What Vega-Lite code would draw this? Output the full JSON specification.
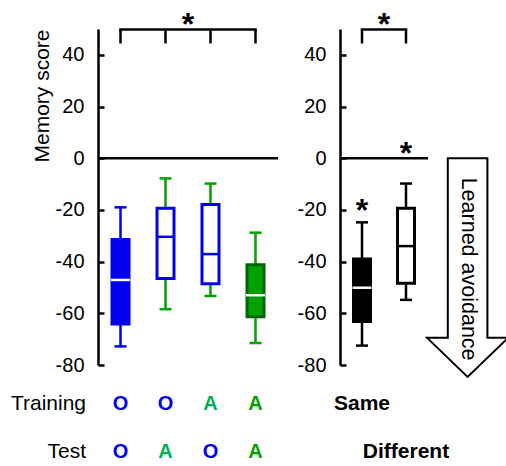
{
  "$schema": "https://vega.github.io/schema/vega-lite/v6.json",
  "autosize": {"type": "none"},
  "padding": {"left": 98, "top": 29, "right": 408, "bottom": 437},
  "bounds": "flush",
  "spacing": 62,
  "config": {
    "font": "Liberation Sans",
    "view": {"stroke": null},
    "axisX": {"disable": true},
    "axisY": {
      "domainColor": "black", "domainWidth": 2.5, "tickColor": "black", "tickWidth": 2.5,
      "tickSize": -6, "labelPadding": 20, "labelFontSize": 20, "labelColor": "black",
      "grid": false, "values": [-80, -60, -40, -20, 0, 20, 40], "labelExpr": "'' + datum.value",
      "labelFlush": false, "labelOverlap": false,
      "titleFontSize": 21, "titleFontWeight": "normal", "titleColor": "black",
      "titlePadding": 3, "titleAnchor": "end"
    }
  },
  "datasets": {
    "boxesLeft": [
      {"cond": "OO", "lo": -72.8, "q1": -64.1, "med": -47.1, "q3": -31.4, "hi": -19.0},
      {"cond": "OA", "lo": -58.4, "q1": -46.5, "med": -30.4, "q3": -19.4, "hi": -7.8},
      {"cond": "AO", "lo": -53.3, "q1": -48.6, "med": -37.1, "q3": -17.9, "hi": -9.8},
      {"cond": "AA", "lo": -71.5, "q1": -61.3, "med": -53.0, "q3": -41.2, "hi": -28.8}
    ],
    "boxesRight": [
      {"cond": "Same", "lo": -72.5, "q1": -63.2, "med": -50.1, "q3": -39.0, "hi": -24.8},
      {"cond": "Different", "lo": -54.8, "q1": -48.4, "med": -34.0, "q3": -19.4, "hi": -9.8}
    ],
    "letters": [
      {"row": "Training", "cond": "OO", "letter": "O"},
      {"row": "Training", "cond": "OA", "letter": "O"},
      {"row": "Training", "cond": "AO", "letter": "A"},
      {"row": "Training", "cond": "AA", "letter": "A"},
      {"row": "Test", "cond": "OO", "letter": "O"},
      {"row": "Test", "cond": "OA", "letter": "A"},
      {"row": "Test", "cond": "AO", "letter": "O"},
      {"row": "Test", "cond": "AA", "letter": "A"}
    ],
    "rowNames": [{"row": "Training"}, {"row": "Test"}],
    "rightLabels": [
      {"row": "Training", "cond": "Same", "label": "Same"},
      {"row": "Test", "cond": "Different", "label": "Different"}
    ],
    "arrow": [
      {"i": 1, "ax": 2.95, "ay": 0},
      {"i": 2, "ax": 3.85, "ay": 0},
      {"i": 3, "ax": 3.85, "ay": -69.5},
      {"i": 4, "ax": 4.32, "ay": -69.5},
      {"i": 5, "ax": 3.4, "ay": -84.6},
      {"i": 6, "ax": 2.48, "ay": -69.5},
      {"i": 7, "ax": 2.95, "ay": -69.5},
      {"i": 8, "ax": 2.95, "ay": 0}
    ],
    "one": [{"k": 1}]
  },
  "hconcat": [
    {
      "width": 180,
      "height": 336,
      "resolve": {"scale": {"color": "independent", "stroke": "independent", "fill": "independent"}},
      "layer": [
        {
          "data": {"name": "one"},
          "mark": {"type": "rule", "color": "black", "strokeWidth": 2.5},
          "encoding": {
            "y": {"datum": 0, "type": "quantitative", "scale": {"domain": [-80, 50], "nice": false, "zero": false}, "title": "Memory score"}
          }
        },
        {
          "data": {"name": "one"},
          "mark": {"type": "rule", "color": "black", "strokeWidth": 2.5, "strokeCap": "square"},
          "encoding": {
            "x": {"datum": "OO", "type": "nominal", "scale": {"type": "band", "domain": ["OO", "OA", "AO", "AA"], "paddingInner": 0, "paddingOuter": 0}},
            "x2": {"datum": "AA"},
            "y": {"datum": 49.8, "type": "quantitative", "scale": {"domain": [-80, 50], "nice": false, "zero": false}, "title": "Memory score"}
          }
        },
        {
          "data": {"name": "boxesLeft"},
          "mark": {"type": "rule", "color": "black", "strokeWidth": 2.5},
          "encoding": {
            "x": {"field": "cond", "type": "nominal", "scale": {"type": "band", "domain": ["OO", "OA", "AO", "AA"], "paddingInner": 0, "paddingOuter": 0}},
            "y": {"datum": 44.4, "type": "quantitative", "scale": {"domain": [-80, 50], "nice": false, "zero": false}, "title": "Memory score"},
            "y2": {"datum": 49.8}
          }
        },
        {
          "data": {"name": "one"},
          "mark": {"type": "text", "fontSize": 32, "fontWeight": "bold", "baseline": "alphabetic", "align": "center", "color": "black"},
          "encoding": {
            "x": {"datum": "OA", "type": "nominal", "bandPosition": 1, "scale": {"type": "band", "domain": ["OO", "OA", "AO", "AA"], "paddingInner": 0, "paddingOuter": 0}},
            "y": {"datum": 47.6, "type": "quantitative", "scale": {"domain": [-80, 50], "nice": false, "zero": false}, "title": "Memory score"},
            "text": {"value": "*"}
          }
        },
        {
          "data": {"name": "boxesLeft"},
          "mark": {"type": "rule", "strokeWidth": 2.5},
          "encoding": {
            "x": {"field": "cond", "type": "nominal", "scale": {"type": "band", "domain": ["OO", "OA", "AO", "AA"], "paddingInner": 0, "paddingOuter": 0}},
            "y": {"field": "lo", "type": "quantitative", "scale": {"domain": [-80, 50], "nice": false, "zero": false}, "title": "Memory score"},
            "y2": {"field": "hi"},
            "stroke": {"field": "cond", "type": "nominal", "legend": null, "scale": {"domain": ["OO", "OA", "AO", "AA", "Same", "Different"], "range": ["#0000ee", "#00a000", "#00a000", "#00a000", "black", "black"]}}
          }
        },
        {
          "data": {"name": "boxesLeft"},
          "transform": [{"fold": ["lo", "hi"], "as": ["end", "val"]}],
          "mark": {"type": "tick", "orient": "horizontal", "size": 12, "thickness": 2.5, "opacity": 1},
          "encoding": {
            "x": {"field": "cond", "type": "nominal", "scale": {"type": "band", "domain": ["OO", "OA", "AO", "AA"], "paddingInner": 0, "paddingOuter": 0}},
            "y": {"field": "val", "type": "quantitative", "scale": {"domain": [-80, 50], "nice": false, "zero": false}, "title": "Memory score"},
            "color": {"field": "cond", "type": "nominal", "legend": null, "scale": {"domain": ["OO", "OA", "AO", "AA", "Same", "Different"], "range": ["#0000ee", "#00a000", "#00a000", "#00a000", "black", "black"]}}
          }
        },
        {
          "data": {"name": "boxesLeft"},
          "mark": {"type": "bar", "width": 17, "strokeWidth": 3, "opacity": 1},
          "encoding": {
            "x": {"field": "cond", "type": "nominal", "scale": {"type": "band", "domain": ["OO", "OA", "AO", "AA"], "paddingInner": 0, "paddingOuter": 0}},
            "y": {"field": "q1", "type": "quantitative", "scale": {"domain": [-80, 50], "nice": false, "zero": false}, "title": "Memory score"},
            "y2": {"field": "q3"},
            "fill": {"field": "cond", "type": "nominal", "legend": null, "scale": {"domain": ["OO", "OA", "AO", "AA", "Same", "Different"], "range": ["#0000ee", "white", "white", "#00a000", "black", "white"]}},
            "stroke": {"field": "cond", "type": "nominal", "legend": null, "scale": {"domain": ["OO", "OA", "AO", "AA", "Same", "Different"], "range": ["#0000ee", "#0000ee", "#0000ee", "#006600", "black", "black"]}}
          }
        },
        {
          "data": {"name": "boxesLeft"},
          "mark": {"type": "tick", "orient": "horizontal", "size": 19, "thickness": 2.5, "opacity": 1},
          "encoding": {
            "x": {"field": "cond", "type": "nominal", "scale": {"type": "band", "domain": ["OO", "OA", "AO", "AA"], "paddingInner": 0, "paddingOuter": 0}},
            "y": {"field": "med", "type": "quantitative", "scale": {"domain": [-80, 50], "nice": false, "zero": false}, "title": "Memory score"},
            "color": {"field": "cond", "type": "nominal", "legend": null, "scale": {"domain": ["OO", "OA", "AO", "AA", "Same", "Different"], "range": ["white", "#0000ee", "#0000ee", "white", "white", "black"]}}
          }
        },
        {
          "data": {"name": "letters"},
          "transform": [{"filter": "datum.row === 'Training'"}],
          "mark": {"type": "text", "fontSize": 20, "fontWeight": "bold", "baseline": "alphabetic", "align": "center"},
          "encoding": {
            "x": {"field": "cond", "type": "nominal", "scale": {"type": "band", "domain": ["OO", "OA", "AO", "AA"], "paddingInner": 0, "paddingOuter": 0}},
            "y": {"datum": -97.4, "type": "quantitative", "scale": {"domain": [-80, 50], "nice": false, "zero": false}, "title": "Memory score"},
            "text": {"field": "letter"},
            "color": {"condition": [{"test": "datum.letter === 'O'", "value": "#0000ee"}, {"test": "datum.cond === 'AA'", "value": "#00a000"}], "value": "#00b050"}
          }
        },
        {
          "data": {"name": "letters"},
          "transform": [{"filter": "datum.row === 'Test'"}],
          "mark": {"type": "text", "fontSize": 20, "fontWeight": "bold", "baseline": "alphabetic", "align": "center"},
          "encoding": {
            "x": {"field": "cond", "type": "nominal", "scale": {"type": "band", "domain": ["OO", "OA", "AO", "AA"], "paddingInner": 0, "paddingOuter": 0}},
            "y": {"datum": -116.1, "type": "quantitative", "scale": {"domain": [-80, 50], "nice": false, "zero": false}, "title": "Memory score"},
            "text": {"field": "letter"},
            "color": {"condition": [{"test": "datum.letter === 'O'", "value": "#0000ee"}, {"test": "datum.cond === 'AA'", "value": "#00a000"}], "value": "#00b050"}
          }
        },
        {
          "data": {"name": "rowNames"},
          "transform": [{"filter": "datum.row === 'Training'"}],
          "mark": {"type": "text", "fontSize": 21, "baseline": "alphabetic", "align": "right", "dx": -34.5, "color": "black"},
          "encoding": {
            "x": {"datum": "OO", "type": "nominal", "scale": {"type": "band", "domain": ["OO", "OA", "AO", "AA"], "paddingInner": 0, "paddingOuter": 0}},
            "y": {"datum": -97.4, "type": "quantitative", "scale": {"domain": [-80, 50], "nice": false, "zero": false}, "title": "Memory score"},
            "text": {"field": "row"}
          }
        },
        {
          "data": {"name": "rowNames"},
          "transform": [{"filter": "datum.row === 'Test'"}],
          "mark": {"type": "text", "fontSize": 21, "baseline": "alphabetic", "align": "right", "dx": -34.5, "color": "black"},
          "encoding": {
            "x": {"datum": "OO", "type": "nominal", "scale": {"type": "band", "domain": ["OO", "OA", "AO", "AA"], "paddingInner": 0, "paddingOuter": 0}},
            "y": {"datum": -116.1, "type": "quantitative", "scale": {"domain": [-80, 50], "nice": false, "zero": false}, "title": "Memory score"},
            "text": {"field": "row"}
          }
        }
      ]
    },
    {
      "width": 88,
      "height": 336,
      "resolve": {"scale": {"x": "independent"}},
      "layer": [
        {
          "resolve": {"scale": {"color": "independent", "stroke": "independent", "fill": "independent"}},
          "layer": [
            {
              "data": {"name": "one"},
              "mark": {"type": "rule", "color": "black", "strokeWidth": 2.5},
              "encoding": {
                "y": {"datum": 0, "type": "quantitative", "scale": {"domain": [-80, 50], "nice": false, "zero": false}, "title": null}
              }
            },
            {
              "data": {"name": "one"},
              "mark": {"type": "rule", "color": "black", "strokeWidth": 2.5, "strokeCap": "square"},
              "encoding": {
                "x": {"datum": "Same", "type": "nominal", "scale": {"type": "band", "domain": ["Same", "Different"], "paddingInner": 0, "paddingOuter": 0}},
                "x2": {"datum": "Different"},
                "y": {"datum": 49.8, "type": "quantitative", "scale": {"domain": [-80, 50], "nice": false, "zero": false}, "title": null}
              }
            },
            {
              "data": {"name": "boxesRight"},
              "mark": {"type": "rule", "color": "black", "strokeWidth": 2.5},
              "encoding": {
                "x": {"field": "cond", "type": "nominal", "scale": {"type": "band", "domain": ["Same", "Different"], "paddingInner": 0, "paddingOuter": 0}},
                "y": {"datum": 44.4, "type": "quantitative", "scale": {"domain": [-80, 50], "nice": false, "zero": false}, "title": null},
                "y2": {"datum": 49.8}
              }
            },
            {
              "data": {"name": "one"},
              "mark": {"type": "text", "fontSize": 32, "fontWeight": "bold", "baseline": "alphabetic", "align": "center", "color": "black"},
              "encoding": {
                "x": {"datum": "Same", "type": "nominal", "bandPosition": 1, "scale": {"type": "band", "domain": ["Same", "Different"], "paddingInner": 0, "paddingOuter": 0}},
                "y": {"datum": 47.6, "type": "quantitative", "scale": {"domain": [-80, 50], "nice": false, "zero": false}, "title": null},
                "text": {"value": "*"}
              }
            },
            {
              "data": {"name": "one"},
              "mark": {"type": "text", "fontSize": 32, "fontWeight": "bold", "baseline": "alphabetic", "align": "center", "color": "black"},
              "encoding": {
                "x": {"datum": "Different", "type": "nominal", "scale": {"type": "band", "domain": ["Same", "Different"], "paddingInner": 0, "paddingOuter": 0}},
                "y": {"datum": -2.2, "type": "quantitative", "scale": {"domain": [-80, 50], "nice": false, "zero": false}, "title": null},
                "text": {"value": "*"}
              }
            },
            {
              "data": {"name": "one"},
              "mark": {"type": "text", "fontSize": 32, "fontWeight": "bold", "baseline": "alphabetic", "align": "center", "color": "black"},
              "encoding": {
                "x": {"datum": "Same", "type": "nominal", "scale": {"type": "band", "domain": ["Same", "Different"], "paddingInner": 0, "paddingOuter": 0}},
                "y": {"datum": -24.1, "type": "quantitative", "scale": {"domain": [-80, 50], "nice": false, "zero": false}, "title": null},
                "text": {"value": "*"}
              }
            },
            {
              "data": {"name": "boxesRight"},
              "mark": {"type": "rule", "strokeWidth": 2.5},
              "encoding": {
                "x": {"field": "cond", "type": "nominal", "scale": {"type": "band", "domain": ["Same", "Different"], "paddingInner": 0, "paddingOuter": 0}},
                "y": {"field": "lo", "type": "quantitative", "scale": {"domain": [-80, 50], "nice": false, "zero": false}, "title": null},
                "y2": {"field": "hi"},
                "stroke": {"field": "cond", "type": "nominal", "legend": null, "scale": {"domain": ["OO", "OA", "AO", "AA", "Same", "Different"], "range": ["#0000ee", "#00a000", "#00a000", "#00a000", "black", "black"]}}
              }
            },
            {
              "data": {"name": "boxesRight"},
              "transform": [{"fold": ["lo", "hi"], "as": ["end", "val"]}],
              "mark": {"type": "tick", "orient": "horizontal", "size": 12, "thickness": 2.5, "opacity": 1},
              "encoding": {
                "x": {"field": "cond", "type": "nominal", "scale": {"type": "band", "domain": ["Same", "Different"], "paddingInner": 0, "paddingOuter": 0}},
                "y": {"field": "val", "type": "quantitative", "scale": {"domain": [-80, 50], "nice": false, "zero": false}, "title": null},
                "color": {"field": "cond", "type": "nominal", "legend": null, "scale": {"domain": ["OO", "OA", "AO", "AA", "Same", "Different"], "range": ["#0000ee", "#00a000", "#00a000", "#00a000", "black", "black"]}}
              }
            },
            {
              "data": {"name": "boxesRight"},
              "mark": {"type": "bar", "width": 17, "strokeWidth": 3, "opacity": 1},
              "encoding": {
                "x": {"field": "cond", "type": "nominal", "scale": {"type": "band", "domain": ["Same", "Different"], "paddingInner": 0, "paddingOuter": 0}},
                "y": {"field": "q1", "type": "quantitative", "scale": {"domain": [-80, 50], "nice": false, "zero": false}, "title": null},
                "y2": {"field": "q3"},
                "fill": {"field": "cond", "type": "nominal", "legend": null, "scale": {"domain": ["OO", "OA", "AO", "AA", "Same", "Different"], "range": ["#0000ee", "white", "white", "#00a000", "black", "white"]}},
                "stroke": {"field": "cond", "type": "nominal", "legend": null, "scale": {"domain": ["OO", "OA", "AO", "AA", "Same", "Different"], "range": ["#0000ee", "#0000ee", "#0000ee", "#006600", "black", "black"]}}
              }
            },
            {
              "data": {"name": "boxesRight"},
              "mark": {"type": "tick", "orient": "horizontal", "size": 19, "thickness": 2.5, "opacity": 1},
              "encoding": {
                "x": {"field": "cond", "type": "nominal", "scale": {"type": "band", "domain": ["Same", "Different"], "paddingInner": 0, "paddingOuter": 0}},
                "y": {"field": "med", "type": "quantitative", "scale": {"domain": [-80, 50], "nice": false, "zero": false}, "title": null},
                "color": {"field": "cond", "type": "nominal", "legend": null, "scale": {"domain": ["OO", "OA", "AO", "AA", "Same", "Different"], "range": ["white", "#0000ee", "#0000ee", "white", "white", "black"]}}
              }
            },
            {
              "data": {"name": "rightLabels"},
              "transform": [{"filter": "datum.row === 'Training'"}],
              "mark": {"type": "text", "fontSize": 21, "fontWeight": "bold", "baseline": "alphabetic", "align": "center", "color": "black"},
              "encoding": {
                "x": {"field": "cond", "type": "nominal", "scale": {"type": "band", "domain": ["Same", "Different"], "paddingInner": 0, "paddingOuter": 0}},
                "y": {"datum": -97.4, "type": "quantitative", "scale": {"domain": [-80, 50], "nice": false, "zero": false}, "title": null},
                "text": {"field": "label"}
              }
            },
            {
              "data": {"name": "rightLabels"},
              "transform": [{"filter": "datum.row === 'Test'"}],
              "mark": {"type": "text", "fontSize": 21, "fontWeight": "bold", "baseline": "alphabetic", "align": "center", "color": "black"},
              "encoding": {
                "x": {"field": "cond", "type": "nominal", "scale": {"type": "band", "domain": ["Same", "Different"], "paddingInner": 0, "paddingOuter": 0}},
                "y": {"datum": -116.1, "type": "quantitative", "scale": {"domain": [-80, 50], "nice": false, "zero": false}, "title": null},
                "text": {"field": "label"}
              }
            }
          ]
        },
        {
          "layer": [
            {
              "data": {"name": "arrow"},
              "mark": {"type": "line", "color": "black", "strokeWidth": 2, "strokeJoin": "miter", "strokeCap": "square"},
              "encoding": {
                "x": {"field": "ax", "type": "quantitative", "scale": {"domain": [0.5, 2.5], "nice": false, "zero": false}},
                "y": {"field": "ay", "type": "quantitative", "scale": {"domain": [-80, 50], "nice": false, "zero": false}, "title": null},
                "order": {"field": "i"}
              }
            },
            {
              "data": {"name": "one"},
              "mark": {"type": "text", "fontSize": 21.5, "angle": 90, "baseline": "middle", "align": "center", "color": "black"},
              "encoding": {
                "x": {"datum": 3.4, "type": "quantitative", "scale": {"domain": [0.5, 2.5], "nice": false, "zero": false}},
                "y": {"datum": -42.9, "type": "quantitative", "scale": {"domain": [-80, 50], "nice": false, "zero": false}, "title": null},
                "text": {"value": "Learned avoidance"}
              }
            }
          ]
        }
      ]
    }
  ]
}
